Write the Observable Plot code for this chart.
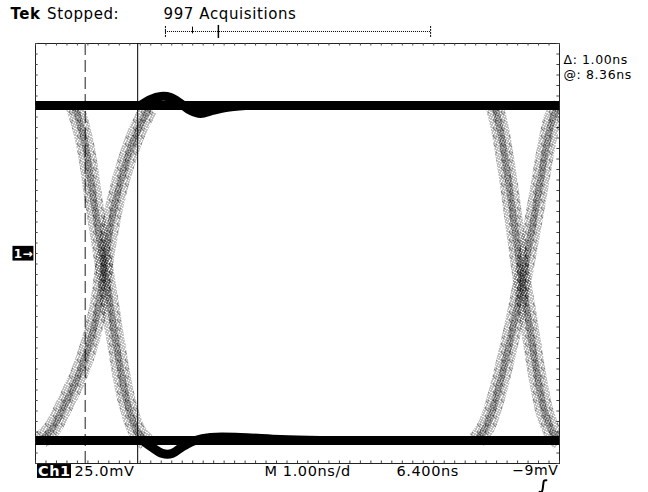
<!DOCTYPE html>
<html><head><meta charset="utf-8">
<script src="https://cdn.jsdelivr.net/npm/d3@7"></script>
<script src="https://cdn.jsdelivr.net/npm/@observablehq/plot@0.6"></script>
<style>
html,body{margin:0;padding:0;background:#fff;}
#chart{width:648px;height:492px;overflow:hidden;}
#chart svg text{letter-spacing:0.6px;}
</style>
</head><body>
<svg width="0" height="0" style="position:absolute">
<defs>
<pattern id="stipSparse" patternUnits="userSpaceOnUse" width="8" height="8">
<rect x="0" y="0" width="1" height="1" fill="#000"/><rect x="5" y="0" width="1" height="1" fill="#000"/>
<rect x="2" y="1" width="1" height="1" fill="#000"/><rect x="7" y="2" width="1" height="1" fill="#000"/>
<rect x="4" y="2" width="1" height="1" fill="#000"/><rect x="1" y="3" width="1" height="1" fill="#000"/>
<rect x="6" y="4" width="1" height="1" fill="#000"/><rect x="3" y="4" width="1" height="1" fill="#000"/>
<rect x="0" y="5" width="1" height="1" fill="#000"/><rect x="5" y="6" width="1" height="1" fill="#000"/>
<rect x="2" y="6" width="1" height="1" fill="#000"/><rect x="7" y="7" width="1" height="1" fill="#000"/>
<rect x="4" y="7" width="1" height="1" fill="#000"/><rect x="6" y="1" width="1" height="1" fill="#000"/>
</pattern>
<pattern id="stipDense" patternUnits="userSpaceOnUse" width="5" height="5">
<rect x="0" y="0" width="1" height="1" fill="#000"/><rect x="2" y="0" width="1" height="1" fill="#000"/>
<rect x="4" y="1" width="1" height="1" fill="#000"/><rect x="1" y="2" width="1" height="1" fill="#000"/>
<rect x="3" y="2" width="1" height="1" fill="#000"/><rect x="0" y="3" width="1" height="1" fill="#000"/>
<rect x="2" y="4" width="1" height="1" fill="#000"/><rect x="4" y="4" width="1" height="1" fill="#000"/>
</pattern>
</defs></svg>
<div id="chart"></div>
<script>
// time in ns from left graticule edge, voltage in mV (25 mV/div, 1 ns/div)
const upperRailT = [0, 2.0, 4.0, 10];
const upperRailV = [70.5, 70.5, 70.5, 70.5];
const lowerRailT = [0, 2.0, 5.5, 10];
const lowerRailV = [-89.0, -89.0, -89.0, -89.0];
const overshootT = [2.00, 2.19, 2.39, 2.58, 2.77, 2.96, 3.15, 3.38, 3.63, 4.01];
const overshootV = [70.5, 73.3, 74.8, 74.3, 71.4, 68.1, 66.7, 68.1, 69.5, 70.5];
const undershootT = [2.04, 2.23, 2.42, 2.61, 2.81, 3.05, 3.34, 3.91, 4.68, 5.44];
const undershootV = [-89.0, -92.4, -95.2, -95.2, -91.9, -89.0, -87.6, -87.6, -88.6, -89.0];
const leftFallT = [0.74, 0.86, 0.97, 1.11, 1.26, 1.41, 1.56, 1.74, 1.93, 2.12];
const leftFallV = [70.5, 61.0, 49.0, 25.2, 1.4, -22.4, -46.2, -70.0, -84.3, -90.0];
const leftRiseT = [0.10, 0.32, 0.55, 0.82, 1.05, 1.22, 1.35, 1.53, 1.74, 1.95, 2.16];
const leftRiseV = [-89.0, -83.3, -72.4, -58.1, -41.4, -22.4, 1.4, 25.2, 44.3, 58.6, 69.0];
const rightFallT = [8.76, 8.87, 9.01, 9.14, 9.27, 9.41, 9.56, 9.71, 9.87, 10.02];
const rightFallV = [70.5, 58.6, 37.1, 13.3, -10.5, -31.9, -55.7, -74.8, -85.2, -90.0];
const rightRiseT = [8.42, 8.61, 8.80, 8.99, 9.16, 9.31, 9.47, 9.62, 9.77, 9.89, 10.02];
const rightRiseV = [-89.0, -81.9, -67.6, -48.6, -29.5, -10.5, 11.0, 32.4, 53.8, 65.7, 70.0];
const cursors = [0.95, 1.95];
const xTicks = d3.range(0, 10.001, 0.2);
const yTicks = d3.range(-100, 100.001, 5);
const headerTexts = ["Tek", "Stopped:", "997 Acquisitions"];
const readouts = ["Δ: 1.00ns", "@: 8.36ns"];
const bottomTexts = ["Ch1", "25.0mV", "M 1.00ns/d", "6.400ns", "−9mV"];

const pts = (T, V) => T.map((t, i) => ({t, v: V[i]}));
const transitions = [pts(leftFallT, leftFallV), pts(leftRiseT, leftRiseV), pts(rightFallT, rightFallV), pts(rightRiseT, rightRiseV)];
const rails = [pts(upperRailT, upperRailV), pts(lowerRailT, lowerRailV), pts(overshootT, overshootV), pts(undershootT, undershootV)];

const sans = "DejaVu Sans, sans-serif";
const marks = [
  Plot.frame({stroke: "#222"}),
  Plot.ruleX(xTicks, {x: d => d, y1: 100, y2: 98.8, stroke: "#444"}),
  Plot.ruleX(xTicks, {x: d => d, y1: -100, y2: -98.8, stroke: "#444"}),
  Plot.ruleY(yTicks, {y: d => d, x1: 0, x2: 0.05, stroke: "#444"}),
  Plot.ruleY(yTicks, {y: d => d, x1: 9.95, x2: 10, stroke: "#444"}),
  Plot.ruleX([cursors[0]], {x: d => d, stroke: "#666", strokeWidth: 1.5, strokeDasharray: "12,5"}),
  Plot.ruleX([cursors[1]], {x: d => d, stroke: "#000", strokeWidth: 1})
];
for (const tr of transitions) {
  marks.push(Plot.line(tr, {x: "t", y: "v", curve: "catmull-rom", stroke: "url(#stipSparse)", strokeWidth: 18, strokeLinecap: "butt", clip: true}));
  marks.push(Plot.line(tr, {x: "t", y: "v", curve: "catmull-rom", stroke: "url(#stipDense)", strokeWidth: 7, strokeLinecap: "butt", clip: true}));
}
for (const r of rails) {
  marks.push(Plot.line(r, {x: "t", y: "v", curve: "catmull-rom", stroke: "#000", strokeWidth: 9, strokeLinecap: "butt", clip: true}));
}
// record bar above graticule
marks.push(Plot.ruleY([105.7], {x1: 2.48, x2: 7.54, stroke: "#000", strokeDasharray: "1,1"}));
marks.push(Plot.ruleX([2.48, 7.54], {x: d => d, y1: 102.9, y2: 108.1, stroke: "#000", strokeDasharray: "2,1"}));
marks.push(Plot.ruleX([2.996], {x: d => d, y1: 104.6, y2: 107.8, stroke: "#000"}));
marks.push(Plot.ruleX([3.49], {x: d => d, y1: 102.4, y2: 108.6, stroke: "#000", strokeWidth: 1.5}));
// header
marks.push(Plot.text([headerTexts[0]], {x: -0.477, y: 113.8, text: d => d, textAnchor: "start", fontSize: 15, fontWeight: "bold", fontFamily: sans, fill: "#000"}));
marks.push(Plot.text([headerTexts[1]], {x: 0.22, y: 113.8, text: d => d, textAnchor: "start", fontSize: 15, fontFamily: sans, fill: "#000"}));
marks.push(Plot.text([headerTexts[2]], {x: 2.443, y: 113.8, text: d => d, textAnchor: "start", fontSize: 15, fontFamily: sans, fill: "#000"}));
// right readouts
marks.push(Plot.text(readouts, {x: 10.076, y: (d, i) => [92.2, 85.0][i], text: d => d, textAnchor: "start", fontSize: 12.5, fontFamily: sans, fill: "#000"}));
// ground marker
marks.push(Plot.rect([0], {x1: -0.43, x2: -0.03, y1: -3.6, y2: 3.4, fill: "#000"}));
marks.push(Plot.text(["1→"], {x: -0.23, y: -0.1, text: d => d, fontSize: 12, fontWeight: "bold", fontFamily: sans, fill: "#fff"}));
// bottom readouts
marks.push(Plot.rect([0], {x1: 0.038, x2: 0.687, y1: -107.1, y2: -100.5, fill: "#000"}));
marks.push(Plot.text([bottomTexts[0]], {x: 0.36, y: -103.9, text: d => d, fontSize: 14.5, fontWeight: "bold", fontFamily: sans, fill: "#fff"}));
marks.push(Plot.text([bottomTexts[1]], {x: 0.744, y: -103.9, text: d => d, textAnchor: "start", fontSize: 14.5, fontFamily: sans, fill: "#000"}));
marks.push(Plot.text([bottomTexts[2]], {x: 4.37, y: -103.9, text: d => d, textAnchor: "start", fontSize: 14.5, fontFamily: sans, fill: "#000"}));
marks.push(Plot.text([bottomTexts[3]], {x: 6.889, y: -103.9, text: d => d, textAnchor: "start", fontSize: 14.5, fontFamily: sans, fill: "#000"}));
marks.push(Plot.text([bottomTexts[4]], {x: 9.98, y: -103.4, text: d => d, textAnchor: "end", fontSize: 14, fontFamily: sans, fill: "#000"}));
// rising-edge trigger slope icon
marks.push(Plot.line([{t: 9.62, v: -113.5}, {t: 9.665, v: -113.3}, {t: 9.69, v: -110}, {t: 9.705, v: -108.2}, {t: 9.75, v: -108}],
  {x: "t", y: "v", curve: "catmull-rom", stroke: "#000", strokeWidth: 2}));

const chart = Plot.plot({
  width: 648, height: 492,
  marginLeft: 35, marginRight: 89, marginTop: 43, marginBottom: 29,
  x: {domain: [0, 10], axis: null},
  y: {domain: [-100, 100], axis: null},
  style: {background: "#fff", overflow: "visible", fontFamily: sans},
  marks
});
document.getElementById("chart").appendChild(chart);
</script>
</body></html>
